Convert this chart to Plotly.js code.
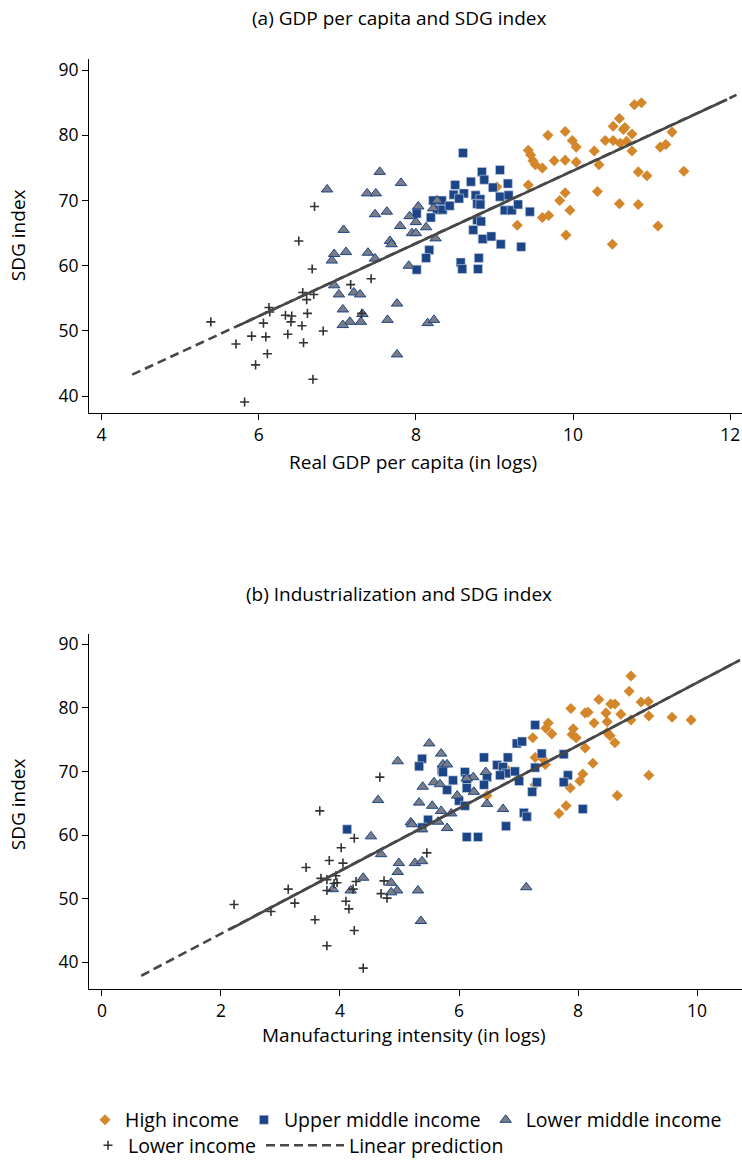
<!DOCTYPE html>
<html>
<head>
<meta charset="utf-8">
<script src="https://cdn.plot.ly/plotly-3.0.1.min.js"></script>
<style>html,body{margin:0;padding:0;background:#fff;}#chart{width:742px;height:1165px;}</style>
</head>
<body>
<div id="chart"></div>
<script>
// ---------- Panel (a): GDP per capita vs SDG index ----------
const hiA_x = [10.78,10.87,10.59,9.68,9.90,9.99,10.04,10.51,10.64,10.66,10.75,10.41,10.51,10.60,10.68,10.75,11.26,11.11,11.18,10.27,9.43,9.46,9.52,9.49,9.61,9.76,9.90,10.04,10.33,10.83,10.94,11.41,9.43,9.03,9.90,9.83,10.31,9.96,10.59,10.83,9.61,9.69,9.29,9.91,11.08,10.50];
const hiA_y = [84.7,85.0,82.6,80.0,80.6,79.2,78.2,81.4,80.9,81.2,80.2,79.2,79.2,78.8,79.1,77.6,80.5,78.2,78.6,77.6,77.7,77.0,75.5,76.1,75.0,76.1,76.2,75.9,75.5,74.4,73.8,74.5,72.4,72.1,71.2,70.0,71.4,68.5,69.5,69.4,67.4,67.7,66.2,64.7,66.1,63.3];
const umA_x = [8.60,8.84,9.07,8.70,8.87,8.50,8.98,9.17,8.48,8.61,8.55,8.76,8.82,9.07,9.18,8.78,8.82,8.22,8.33,8.27,8.34,8.43,8.01,8.19,9.13,9.22,9.30,9.45,8.78,8.83,8.73,8.85,8.96,9.08,9.34,8.17,8.13,8.80,8.57,8.59,8.79,8.01];
const umA_y = [77.3,74.4,74.7,72.9,73.2,72.4,72.0,72.6,70.9,71.1,70.3,70.8,70.2,70.6,70.8,69.5,69.4,70.0,70.0,68.6,68.6,69.2,68.0,67.4,68.5,68.5,69.4,68.3,67.0,66.8,65.5,64.1,64.5,63.3,62.9,62.4,61.2,61.2,60.5,59.5,59.5,59.4];
const lmA_x = [7.54,7.81,6.87,7.38,7.49,8.27,8.03,7.63,7.48,8.22,7.92,8.00,7.80,8.13,7.08,7.95,8.00,8.25,7.67,7.69,6.96,7.11,7.39,6.93,7.48,7.91,6.96,7.02,7.21,7.29,7.76,7.07,7.32,7.16,7.07,7.30,7.64,8.15,8.23,7.76];
const lmA_y = [74.4,72.7,71.7,71.1,71.1,70.0,69.1,68.3,67.9,68.8,67.6,66.7,66.1,65.9,65.5,65.0,65.0,64.2,63.8,63.3,61.8,62.1,62.0,60.8,61.1,60.0,57.0,55.6,55.9,55.6,54.2,53.3,52.6,51.4,50.9,51.4,51.7,51.2,51.7,46.4];
const liA_x = [5.39,6.68,7.43,7.17,6.56,6.61,6.70,6.13,6.14,6.34,6.42,6.41,6.62,6.06,6.55,6.82,5.91,6.09,6.37,5.71,6.57,6.11,5.96,6.69,5.82,7.31,6.71,6.51];
const liA_y = [51.4,59.5,58.0,57.1,55.9,54.8,55.6,53.6,52.9,52.4,52.3,51.4,52.7,51.2,50.8,50.0,49.2,49.1,49.5,48.0,48.2,46.5,44.8,42.6,39.1,52.7,69.1,63.8];
// linear prediction (full dashed extent, and the dense solid-looking part)
const fitA_x = [4.39, 12.08];
const fitA_y = [43.3, 86.2];
const fitA_solid_x = [5.72, 11.96];
const fitA_solid_y = [50.7, 85.5];

// ---------- Panel (b): Manufacturing intensity vs SDG index ----------
const hiB_x = [8.89,8.86,8.35,9.06,9.18,7.88,8.12,8.17,8.47,8.55,8.62,8.72,8.27,8.49,8.89,9.19,9.58,9.90,7.50,7.46,7.92,7.90,7.97,7.56,7.24,8.12,8.49,8.54,8.62,7.28,7.41,7.45,8.25,8.08,8.03,7.87,9.19,8.66,7.80,7.68,6.47,6.82,7.28];
const hiB_y = [85.0,82.6,81.3,80.9,81.0,79.9,79.2,79.3,79.2,80.6,80.6,79.0,77.6,77.8,78.1,78.7,78.5,78.1,77.6,76.8,76.7,75.8,75.3,75.9,75.3,73.7,76.1,75.6,74.5,72.2,72.0,71.1,71.3,69.6,68.5,67.4,69.4,66.2,64.6,63.4,66.2,70.2,67.9];
const umB_x = [7.28,6.97,7.06,7.39,7.76,5.38,5.33,5.71,5.73,6.42,6.82,6.64,6.74,6.79,6.69,6.94,6.10,5.90,6.13,6.13,6.47,6.42,7.01,7.28,7.31,7.83,7.76,7.23,5.80,6.00,6.10,5.48,5.38,7.09,7.14,8.08,6.79,4.12,6.13,6.32];
const umB_y = [77.3,74.4,74.7,72.8,72.7,72.0,70.8,70.2,69.9,72.2,72.2,71.0,70.7,69.7,69.4,70.0,69.9,68.6,68.8,67.4,69.1,67.9,68.5,70.6,68.3,69.4,68.3,66.8,67.1,65.4,64.6,62.4,61.2,63.5,62.9,64.1,61.4,60.9,59.7,59.7];
const lmB_x = [5.50,5.70,4.97,5.73,5.80,6.24,6.13,6.45,5.58,5.39,5.68,6.25,5.97,4.64,5.33,5.55,6.47,6.74,5.70,5.87,5.19,5.21,5.65,5.80,5.38,4.52,4.69,4.99,5.26,5.38,4.97,4.39,4.86,3.88,4.18,4.96,4.86,5.31,5.36,7.13];
const lmB_y = [74.4,72.8,71.6,71.1,71.1,69.1,68.9,69.9,68.3,67.6,68.0,66.8,66.2,65.5,65.1,64.6,64.9,64.1,63.8,63.4,62.0,61.7,62.1,61.1,60.9,59.8,57.0,55.6,55.6,55.9,54.2,53.3,52.5,51.5,51.3,51.3,51.0,51.3,46.5,51.8];
const liB_x = [4.67,3.66,4.24,4.02,3.82,4.05,3.43,5.46,3.68,3.78,3.93,3.90,3.95,3.78,4.27,4.22,4.74,4.69,4.79,3.13,3.24,2.22,2.84,4.10,4.15,3.58,4.24,3.78,4.39];
const liB_y = [69.1,63.8,59.5,58.0,56.0,55.6,54.9,57.2,53.2,53.0,53.6,52.4,52.5,51.3,52.7,51.5,52.8,50.8,50.1,51.5,49.3,49.1,48.0,49.6,48.4,46.7,45.0,42.6,39.1];
const fitB_x = [0.66, 10.72];
const fitB_y = [37.9, 87.5];
const fitB_solid_x = [2.15, 10.72];
const fitB_solid_y = [45.2, 87.5];

const seriesNames = ["High income", "Upper middle income", "Lower middle income", "Lower income", "Linear prediction"];
const xTicksA = [4, 6, 8, 10, 12];
const xTicksB = [0, 2, 4, 6, 8, 10];
const yTicks = [40, 50, 60, 70, 80, 90];

const FONT = "Open Sans, Noto Sans, sans-serif";
const TXT = 19.5, TITLE = 19, TICK = 17.5;
const ORANGE = "#d4862b", NAVY = "#1b4586", GREYTRI = "#7b7d86", PLUS = "#333333", LINE = "#474747";
const legendOf = ["legend", "legend", "legend", "legend2", "legend3"];

function panel(xa, ya, hx, hy, ux, uy, lx, ly, px, py, fx, fy, sx, sy, show) {
  return [
    {type:"scatter", mode:"markers", x:hx, y:hy, xaxis:xa, yaxis:ya, name:seriesNames[0], showlegend:show, legend:legendOf[0],
     marker:{symbol:"diamond", size:8.5, color:ORANGE, line:{width:0}}},
    {type:"scatter", mode:"markers", x:ux, y:uy, xaxis:xa, yaxis:ya, name:seriesNames[1], showlegend:show, legend:legendOf[1],
     marker:{symbol:"square", size:9, color:NAVY, line:{width:0.6, color:"#c9d3e6"}}},
    {type:"scatter", mode:"markers", x:lx, y:ly, xaxis:xa, yaxis:ya, name:seriesNames[2], showlegend:show, legend:legendOf[2],
     marker:{symbol:"triangle-up", size:10, color:GREYTRI, line:{width:1, color:NAVY}}},
    {type:"scatter", mode:"markers", x:px, y:py, xaxis:xa, yaxis:ya, name:seriesNames[3], showlegend:show, legend:legendOf[3],
     marker:{symbol:"cross-thin", size:6.5, color:PLUS, line:{width:1.6, color:PLUS}}},
    {type:"scatter", mode:"lines", x:fx, y:fy, xaxis:xa, yaxis:ya, name:seriesNames[4], showlegend:show, legend:legendOf[4],
     line:{color:LINE, width:2.6, dash:"9px,5px"}},
    {type:"scatter", mode:"lines", x:sx, y:sy, xaxis:xa, yaxis:ya, showlegend:false, hoverinfo:"skip",
     line:{color:LINE, width:2.6}}
  ];
}

const data = [].concat(
  panel("x","y", hiA_x,hiA_y, umA_x,umA_y, lmA_x,lmA_y, liA_x,liA_y, fitA_x,fitA_y, fitA_solid_x,fitA_solid_y, true),
  panel("x2","y2", hiB_x,hiB_y, umB_x,umB_y, lmB_x,lmB_y, liB_x,liB_y, fitB_x,fitB_y, fitB_solid_x,fitB_solid_y, false)
);

const W = 742, H = 1165;
const px = v => v / W;
const py = v => 1 - v / H;

const axisCommon = {
  showgrid:false, zeroline:false, showline:true, linecolor:"#000", linewidth:1,
  ticks:"outside", ticklen:6, tickwidth:1, tickcolor:"#000",
  tickfont:{family:FONT, size:TICK, color:"#000"}, fixedrange:true
};
const legendBase = {orientation:"h", xanchor:"left", yanchor:"top", bgcolor:"rgba(0,0,0,0)",
  font:{family:FONT, size:TXT, color:"#000"}, tracegroupgap:0};

function note(text, x, y, angle) {
  return {text:text, xref:"paper", yref:"paper", x:px(x), y:py(y), textangle:angle || 0, showarrow:false,
          xanchor:"center", yanchor:"middle", font:{family:FONT, size:TITLE, color:"#000"}};
}

const layout = {
  width:W, height:H,
  margin:{l:0, r:0, t:0, b:0},
  paper_bgcolor:"#fff", plot_bgcolor:"#fff",
  font:{family:FONT, color:"#000"},
  showlegend:true,
  xaxis: Object.assign({}, axisCommon, {domain:[px(89), 1], range:[3.84, 12.15], tickvals:xTicksA, anchor:"y"}),
  yaxis: Object.assign({}, axisCommon, {domain:[py(418), py(60)], range:[37.42, 91.67], tickvals:yTicks, anchor:"x"}),
  xaxis2: Object.assign({}, axisCommon, {domain:[px(89), 1], range:[-0.218, 10.756], tickvals:xTicksB, anchor:"y2"}),
  yaxis2: Object.assign({}, axisCommon, {domain:[py(1001), py(642)], range:[35.82, 91.55], tickvals:yTicks, anchor:"x2"}),
  legend: Object.assign({}, legendBase, {x:px(85), y:py(1114)}),
  legend2: Object.assign({}, legendBase, {x:px(88), y:py(1140)}),
  legend3: Object.assign({}, legendBase, {x:px(261), y:py(1140), itemwidth:78}),
  annotations:[
    note("(a) GDP per capita and SDG index", 399, 18),
    note("Real GDP per capita (in logs)", 413, 468),
    note("SDG index", 18, 238, -90),
    note("(b) Industrialization and SDG index", 399, 601),
    note("Manufacturing intensity (in logs)", 404, 1048),
    note("SDG index", 18, 814, -90)
  ]
};

Plotly.newPlot("chart", data, layout, {displayModeBar:false, staticPlot:true});
</script>
</body>
</html>
